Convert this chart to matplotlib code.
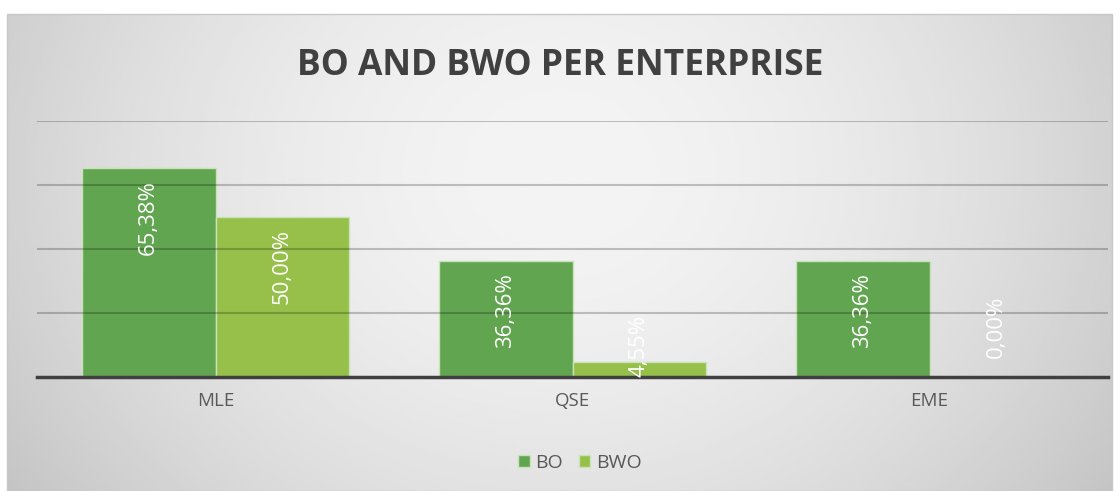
import numpy as np
import matplotlib.pyplot as plt
from matplotlib.patches import Rectangle

categories = ["MLE", "QSE", "EME"]
bo = [65.38, 36.36, 36.36]
bwo = [50.00, 4.55, 0.00]
series_names = ["BO", "BWO"]

c_bo = "#62a550"
c_bwo = "#96c04a"
c_edge = "#c9e3b8"

plt.rcParams['font.family'] = ['Open Sans', 'DejaVu Sans']

fig = plt.figure(figsize=(11.2, 4.91), dpi=100)

# radial grey background behind the chart
bg = fig.add_axes([0, 0, 1, 1], zorder=-10)
bg.set_xlim(0, 1120)
bg.set_ylim(491, 0)
bg.axis('off')
xx, yy = np.meshgrid(np.linspace(7, 1112, 400), np.linspace(14, 491, 200))
r = np.sqrt(((xx - 560) / 620) ** 2 + ((yy - 170) / 520) ** 2)
shade = np.clip(0.955 - 0.16 * r ** 1.8, 0, 1)
bg.imshow(shade, cmap='gray', vmin=0, vmax=1, extent=(7, 1112, 491, 14),
          aspect='auto', interpolation='bilinear')
bg.add_patch(Rectangle((7, 14), 1105, 477, fill=False, edgecolor='#c8c8c8', lw=1))

ax = fig.add_axes([37 / 1120, 1 - 377 / 491, (1108 - 37) / 1120, (377 - 121) / 491])
ax.patch.set_alpha(0)
for s in ax.spines.values():
    s.set_visible(False)

x = np.arange(len(categories))
w = 0.375
b1 = ax.bar(x - w / 2, bo, w, color=c_bo, edgecolor=c_edge, lw=1, zorder=2)
b2 = ax.bar(x + w / 2, bwo, w, color=c_bwo, edgecolor=c_edge, lw=1, zorder=2)

ax.set_xlim(-0.5, 2.5)
ax.set_ylim(0, 80)
ax.set_yticks([20, 40, 60, 80])
ax.yaxis.grid(True, color='black', alpha=0.22, lw=1.5, zorder=3)
ax.set_axisbelow(False)
ax.tick_params(axis='y', left=False, labelleft=False)
ax.tick_params(axis='x', bottom=False, pad=7, labelsize=13.5, labelcolor='#595959')
ax.set_xticks(x)
ax.set_xticklabels(categories)
ax.axhline(0, color='#404040', lw=2.5, zorder=4, clip_on=False)

# value labels, rotated and written inside the top of each bar
for bars, vals in ((b1, bo), (b2, bwo)):
    for bar, v in zip(bars, vals):
        cx = bar.get_x() + bar.get_width() / 2
        txt = f"{v:.2f}".replace('.', ',') + "%"
        if v > 20:
            ax.annotate(txt, (cx, v), xytext=(0, -9), textcoords='offset points',
                        rotation=90, ha='center', va='top', color='white',
                        fontsize=16, zorder=5)
        else:
            off = 12 if v > 0 else 36
            ax.annotate(txt, (cx, v), xytext=(0, off), textcoords='offset points',
                        rotation=90, ha='center', va='center', color='white',
                        fontsize=16, zorder=5)

fig.text(0.5, 1 - 66 / 491, "BO AND BWO PER ENTERPRISE", ha='center', va='center',
         fontsize=25.5, fontweight='bold', color='#404040')

leg = fig.legend([b1, b2], series_names, loc='center', bbox_to_anchor=(580 / 1120, 1 - 463 / 491),
                 ncol=2, frameon=False, handlelength=0.6, handleheight=0.6,
                 handletextpad=0.3, columnspacing=0.8, fontsize=14)
for t in leg.get_texts():
    t.set_color('#595959')

fig.savefig("out.png", dpi=100)
